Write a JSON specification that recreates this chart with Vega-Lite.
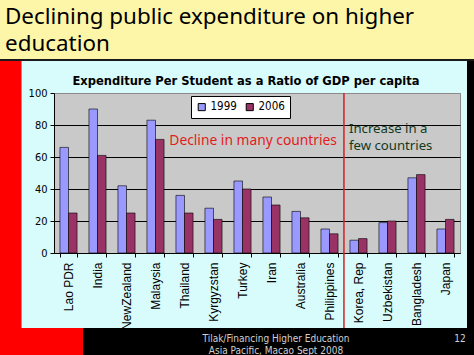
{
  "$schema": "https://vega.github.io/schema/vega-lite/v6.json",
  "width": 406,
  "height": 160,
  "autosize": {"type": "none"},
  "padding": {"left": 54, "top": 93, "right": 14, "bottom": 102},
  "background": "#d8fbfb",
  "config": {
    "view": {"fill": "#c9c9c9", "stroke": "#8a8a8a", "strokeWidth": 1},
    "axisX": {"title": null, "labelAngle": -90, "tickBand": "extent", "domainColor": "#000", "tickColor": "#000", "tickSize": 4, "labelFont": "Liberation Sans", "labelFontSize": 12, "labelColor": "#000", "labelPadding": 5},
    "axisY": {"title": null, "tickCount": 10, "labelOverlap": false, "grid": true, "gridColor": "#000000", "gridOpacity": 1, "gridWidth": 1, "domainColor": "#000", "tickColor": "#000", "tickSize": 4, "labelFont": "DejaVu Sans Condensed", "labelFontSize": 11, "labelColor": "#000", "labelPadding": 3}
  },
  "layer": [
    {"data": {"values": [{}]}, "mark": {"type": "rect", "x": -54, "x2": 420, "y": -93, "y2": -34, "color": "#fdf6a8"}, "encoding": {}},
    {"data": {"values": [{}]}, "mark": {"type": "rect", "x": -54, "x2": 420, "y": -34, "y2": -32, "color": "#1a1a1a"}, "encoding": {}},
    {"data": {"values": [{}]}, "mark": {"type": "rect", "x": -54, "x2": -33, "y": -32, "y2": 262, "color": "#ff0000"}, "encoding": {}},
    {"data": {"values": [{}]}, "mark": {"type": "rect", "x": -33, "x2": -32, "y": -32, "y2": 235, "color": "#9a9a9a"}, "encoding": {}},
    {"data": {"values": [{}]}, "mark": {"type": "rect", "x": -54, "x2": 29, "y": 235, "y2": 262, "color": "#ff0000"}, "encoding": {}},
    {"data": {"values": [{}]}, "mark": {"type": "rect", "x": 413, "x2": 420, "y": -32, "y2": 235, "color": "#000000"}, "encoding": {}},
    {"data": {"values": [{}]}, "mark": {"type": "rect", "x": 29, "x2": 420, "y": 235, "y2": 262, "color": "#000000"}, "encoding": {}},
    {
      "data": {"values": [
        {"country": "Lao PDR", "year": "1999", "value": 66},
        {"country": "Lao PDR", "year": "2006", "value": 25},
        {"country": "India", "year": "1999", "value": 90},
        {"country": "India", "year": "2006", "value": 61},
        {"country": "NewZealand", "year": "1999", "value": 42},
        {"country": "NewZealand", "year": "2006", "value": 25},
        {"country": "Malaysia", "year": "1999", "value": 83},
        {"country": "Malaysia", "year": "2006", "value": 71},
        {"country": "Thailand", "year": "1999", "value": 36},
        {"country": "Thailand", "year": "2006", "value": 25},
        {"country": "Kyrgyzstan", "year": "1999", "value": 28},
        {"country": "Kyrgyzstan", "year": "2006", "value": 21},
        {"country": "Turkey", "year": "1999", "value": 45},
        {"country": "Turkey", "year": "2006", "value": 40},
        {"country": "Iran", "year": "1999", "value": 35},
        {"country": "Iran", "year": "2006", "value": 30},
        {"country": "Australia", "year": "1999", "value": 26},
        {"country": "Australia", "year": "2006", "value": 22},
        {"country": "Philippines", "year": "1999", "value": 15},
        {"country": "Philippines", "year": "2006", "value": 12},
        {"country": "Korea, Rep", "year": "1999", "value": 8},
        {"country": "Korea, Rep", "year": "2006", "value": 9},
        {"country": "Uzbekistan", "year": "1999", "value": 19},
        {"country": "Uzbekistan", "year": "2006", "value": 20},
        {"country": "Bangladesh", "year": "1999", "value": 47},
        {"country": "Bangladesh", "year": "2006", "value": 49},
        {"country": "Japan", "year": "1999", "value": 15},
        {"country": "Japan", "year": "2006", "value": 21}
      ]},
      "mark": {"type": "bar", "stroke": "#000000", "strokeWidth": 0.6},
      "encoding": {
        "x": {
          "field": "country", "type": "nominal",
          "scale": {"domain": ["Lao PDR", "India", "NewZealand", "Malaysia", "Thailand", "Kyrgyzstan", "Turkey", "Iran", "Australia", "Philippines", "Korea, Rep", "Uzbekistan", "Bangladesh", "Japan"], "paddingInner": 0.41, "paddingOuter": 0.205},
          "axis": {"title": null, "labelAngle": -90, "tickBand": "extent"}
        },
        "xOffset": {"field": "year", "type": "nominal", "scale": {"paddingInner": 0}},
        "y": {
          "field": "value", "type": "quantitative",
          "scale": {"domain": [0, 100], "nice": false},
          "axis": {"title": null, "values": [0, 20, 40, 60, 80, 100], "tickCount": 10, "labelOverlap": false, "grid": true, "gridColor": {"condition": {"test": "datum.value === 100", "value": "#8a8a8a"}, "value": "#000000"}}
        },
        "color": {
          "field": "year", "type": "nominal",
          "scale": {"domain": ["1999", "2006"], "range": ["#9999ff", "#993366"]},
          "legend": {"title": null, "orient": "none", "legendX": 137, "legendY": 3, "direction": "horizontal", "fillColor": "#ffffff", "strokeColor": "#000000", "padding": 5, "symbolType": "square", "symbolSize": 50, "symbolStrokeColor": "#000000", "symbolStrokeWidth": 1, "symbolOpacity": 1, "labelFont": "DejaVu Sans Condensed", "labelFontSize": 11.5, "labelColor": "#000", "labelOffset": 3, "columnPadding": 7}
        }
      }
    },
    {
      "data": {"values": [{}]},
      "mark": {"type": "rule", "color": "#d42020", "strokeWidth": 1.5, "xOffset": -6},
      "encoding": {"x": {"datum": "Korea, Rep", "bandPosition": 0}, "y": {"datum": 100}, "y2": {"datum": -46.9}}
    },
    {
      "data": {"values": [{}]},
      "mark": {"type": "text", "text": "Decline in many countries", "align": "right", "baseline": "middle", "dx": -13, "font": "Noto Sans", "fontSize": 13.8, "color": "#e31b1b"},
      "encoding": {"x": {"datum": "Korea, Rep", "bandPosition": 0}, "y": {"datum": 70}}
    },
    {
      "data": {"values": [{}]},
      "mark": {"type": "text", "text": ["Increase in a", "few countries"], "align": "left", "baseline": "top", "dx": -1, "lineHeight": 17, "font": "Noto Sans", "fontSize": 13.2, "color": "#123a1e"},
      "encoding": {"x": {"datum": "Korea, Rep", "bandPosition": 0}, "y": {"datum": 81}}
    },
    {
      "data": {"values": [{}]},
      "mark": {"type": "text", "text": "Expenditure Per Student as a Ratio of GDP per capita", "align": "center", "baseline": "middle", "dx": 3.5, "font": "DejaVu Sans Condensed", "fontWeight": "bold", "fontSize": 12.8, "color": "#000"},
      "encoding": {"x": {"datum": "Turkey"}, "y": {"datum": 107.2}}
    },
    {
      "data": {"values": [{}]},
      "mark": {"type": "text", "text": ["Declining public expenditure on higher", "education"], "align": "left", "baseline": "top", "dx": -63.5, "lineHeight": 27.5, "font": "Noto Sans", "fontSize": 22.4, "color": "#000"},
      "encoding": {"x": {"datum": "Lao PDR"}, "y": {"datum": 154.6}}
    },
    {
      "data": {"values": [{}]},
      "mark": {"type": "text", "text": ["Tilak/Financing Higher Education", "Asia Pacific, Macao Sept 2008"], "align": "center", "baseline": "top", "dx": 4.5, "lineHeight": 12, "font": "DejaVu Sans Condensed", "fontSize": 10, "color": "#d0d0d0"},
      "encoding": {"x": {"datum": "Iran"}, "y": {"datum": -50.6}}
    },
    {
      "data": {"values": [{}]},
      "mark": {"type": "text", "text": "12", "align": "center", "baseline": "top", "dx": 14.5, "font": "DejaVu Sans Condensed", "fontSize": 10, "color": "#d0d0d0"},
      "encoding": {"x": {"datum": "Japan"}, "y": {"datum": -50.6}}
    }
  ]
}
